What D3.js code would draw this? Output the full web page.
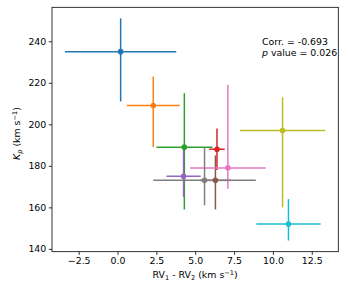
<!DOCTYPE html>
<html>
<head>
<meta charset="utf-8">
<script src="https://cdn.jsdelivr.net/npm/d3@7"></script>
<style>
  html, body { margin: 0; padding: 0; background: #fff; }
  svg { display: block; }
  text { font-family: "DejaVu Sans", sans-serif; fill: #000; }
</style>
</head>
<body>
<svg id="chart" width="349" height="291"></svg>
<script>
// ---- data ----
const xVals    = [0.2, 2.3, 4.3, 6.4, 4.25, 6.3, 7.1, 5.6, 10.62, 11.0];
const xErr     = [3.58, 1.7, 1.8, 0.5, 1.1, 1.0, 2.43, 3.3, 2.75, 2.07];
const yVals    = [235, 209, 189, 188, 175, 173, 179, 173, 197, 152];
const yErrUp   = [16, 14, 26, 10, 13, 12, 40, 16, 16, 12];
const yErrDown = [24, 20, 30, 10, 10, 14, 10, 12, 37, 8];
const xTicks   = [-2.5, 0.0, 2.5, 5.0, 7.5, 10.0, 12.5];
const yTicks   = [140, 160, 180, 200, 220, 240];
const corrText = "Corr. = -0.693";
const pText    = "0.026";
const palette  = ["#1f77b4","#ff7f0e","#2ca02c","#d62728","#9467bd",
                  "#8c564b","#e377c2","#7f7f7f","#bcbd22","#17becf"];

const pts = xVals.map((x, i) => ({
  x, y: yVals[i], xe: xErr[i], yu: yErrUp[i], yd: yErrDown[i], c: palette[i]
}));

// ---- layout ----
const L = 52, R = 338.3, T = 7.3, B = 251.7;
const svg = d3.select("#chart");

// auto domains with 5% padding like matplotlib
const xmin = d3.min(pts, d => d.x - d.xe), xmax = d3.max(pts, d => d.x + d.xe);
const ymin = d3.min(pts, d => d.y - d.yd), ymax = d3.max(pts, d => d.y + d.yu);
const px = (xmax - xmin) * 0.05, py = (ymax - ymin) * 0.05;
const x = d3.scaleLinear().domain([xmin - px, xmax + px]).range([L, R]);
const y = d3.scaleLinear().domain([ymin - py, ymax + py]).range([B, T]);

// ---- error bars (drawn first, below markers) ----
const eb = svg.append("g");
pts.forEach(d => {
  eb.append("line")
    .attr("x1", x(d.x - d.xe)).attr("x2", x(d.x + d.xe))
    .attr("y1", y(d.y)).attr("y2", y(d.y))
    .attr("stroke", d.c).attr("stroke-width", 1.5);
  eb.append("line")
    .attr("x1", x(d.x)).attr("x2", x(d.x))
    .attr("y1", y(d.y - d.yd)).attr("y2", y(d.y + d.yu))
    .attr("stroke", d.c).attr("stroke-width", 1.5);
});

// ---- markers ----
svg.append("g").selectAll("circle").data(pts).join("circle")
  .attr("cx", d => x(d.x)).attr("cy", d => y(d.y))
  .attr("r", 2.8).attr("fill", d => d.c);

// ---- axes ----
const fmtX = v => d3.format(".1f")(v).replace("-", "\u2212");
const xAxis = d3.axisBottom(x).tickValues(xTicks).tickFormat(fmtX)
  .tickSize(3.2).tickPadding(2.5);
const yAxis = d3.axisLeft(y).tickValues(yTicks).tickFormat(d3.format("d"))
  .tickSize(3.2).tickPadding(2.5);

const gx = svg.append("g").attr("transform", `translate(0,${B})`).call(xAxis);
const gy = svg.append("g").attr("transform", `translate(${L},0)`).call(yAxis);
[gx, gy].forEach(g => {
  g.select(".domain").remove();
  g.selectAll(".tick line").attr("stroke", "#000").attr("stroke-width", 0.8);
  g.selectAll(".tick text").attr("font-size", 9.4)
    .attr("font-family", "DejaVu Sans, sans-serif").attr("fill", "#000");
});

// frame
svg.append("rect").attr("x", L).attr("y", T)
  .attr("width", R - L).attr("height", B - T)
  .attr("fill", "none").attr("stroke", "#000").attr("stroke-width", 0.8);

// ---- axis labels ----
const xl = svg.append("text").attr("x", (L + R) / 2).attr("y", 278)
  .attr("text-anchor", "middle").attr("font-size", 9.4);
xl.append("tspan").text("RV");
xl.append("tspan").attr("font-size", 6.6).attr("dy", 2).text("1");
xl.append("tspan").attr("dy", -2).text(" - RV");
xl.append("tspan").attr("font-size", 6.6).attr("dy", 2).text("2");
xl.append("tspan").attr("dy", -2).text(" (km s");
xl.append("tspan").attr("font-size", 6.6).attr("dy", -3.5).text("\u22121");
xl.append("tspan").attr("dy", 3.5).text(")");

const yl = svg.append("text")
  .attr("transform", `translate(20,${(T + B) / 2 + 4}) rotate(-90)`)
  .attr("text-anchor", "middle").attr("font-size", 9.4);
yl.append("tspan").attr("font-style", "italic").text("K");
yl.append("tspan").attr("font-size", 6.6).attr("font-style", "italic").attr("dy", 2).text("p");
yl.append("tspan").attr("dy", -2).text(" (km s");
yl.append("tspan").attr("font-size", 6.6).attr("dy", -3.5).text("\u22121");
yl.append("tspan").attr("dy", 3.5).text(")");

// ---- annotation ----
svg.append("text").attr("x", 262).attr("y", 44.5).attr("font-size", 9.4).text(corrText);
const t2 = svg.append("text").attr("x", 262).attr("y", 56).attr("font-size", 9.4);
t2.append("tspan").attr("font-style", "italic").text("p");
t2.append("tspan").text(" value = " + pText);
</script>
</body>
</html>
